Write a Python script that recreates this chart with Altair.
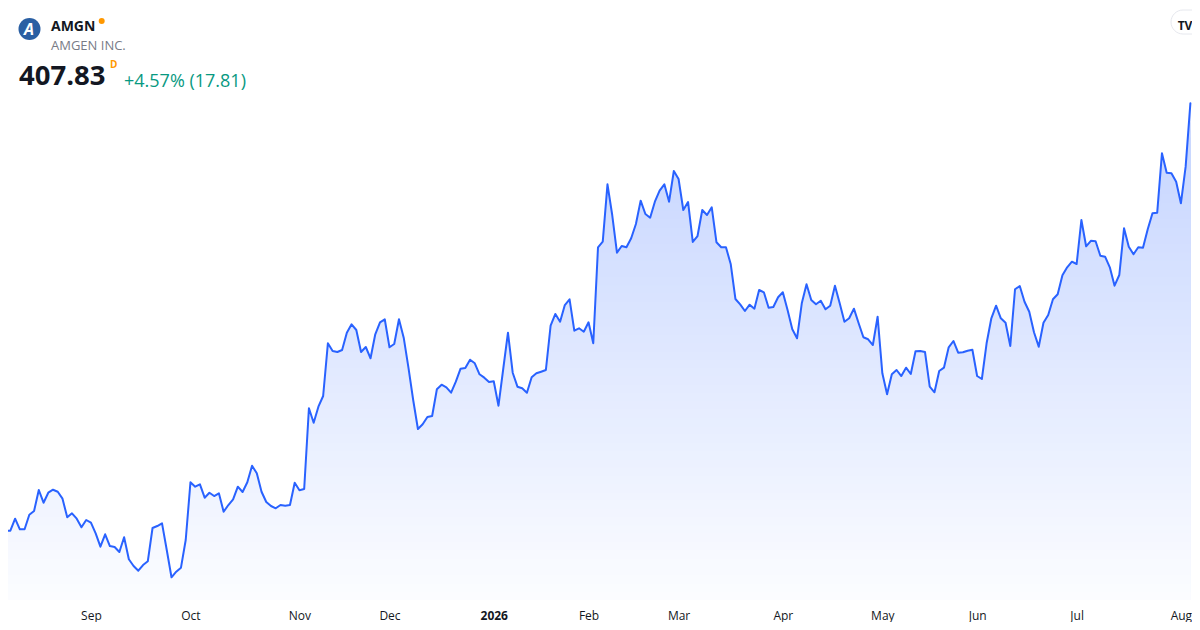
import altair as alt
import pandas as pd

# Daily closes (trading-day index), AMGN, Aug 2025 - Aug 2026
prices = [
    302.63, 287.73, 287.73, 291.11, 288.13, 288.13, 292.23, 293.27, 299.17, 295.60,
    298.41, 299.25, 298.69, 296.73, 291.50, 292.62, 291.11, 288.69, 290.74, 289.98,
    287.00, 283.24, 286.72, 283.43, 283.15, 281.75, 285.88, 279.70, 277.81, 276.49,
    278.09, 279.13, 288.49, 289.05, 289.81, 282.31, 274.64, 276.21, 277.34, 285.12,
    301.33, 300.10, 300.77, 297.01, 298.41, 297.48, 298.24, 293.07, 294.95, 296.56,
    300.10, 298.61, 301.33, 306.00, 303.86, 298.69, 295.80, 294.67, 294.03, 294.95,
    294.76, 294.95, 301.22, 299.09, 299.45, 322.13, 318.08, 322.58, 325.58, 340.39,
    338.23, 337.95, 338.51, 343.37, 345.73, 344.13, 337.95, 339.35, 336.18, 342.92,
    346.29, 347.14, 339.27, 340.20, 347.14, 341.97, 333.54, 324.46, 316.31, 317.63,
    319.68, 319.96, 327.47, 328.76, 328.03, 326.51, 329.60, 333.26, 333.45, 335.78,
    334.77, 331.68, 330.73, 329.52, 329.71, 322.86, 333.17, 343.37, 332.13, 328.20,
    327.75, 326.51, 330.84, 331.96, 332.41, 332.89, 345.34, 348.63, 346.46, 351.15,
    352.76, 343.93, 344.61, 343.65, 346.29, 340.39, 367.37, 368.94, 385.07, 376.44,
    365.85, 367.73, 367.37, 369.90, 373.92, 380.46, 376.73, 375.69, 380.18, 383.27,
    385.07, 380.18, 388.81, 386.56, 377.85, 380.10, 368.86, 370.54, 377.85, 376.44,
    378.61, 368.77, 367.37, 367.37, 362.68, 352.84, 351.35, 349.47, 351.24, 350.12,
    355.37, 354.72, 350.40, 350.59, 353.32, 354.72, 349.75, 344.33, 341.80, 351.63,
    356.97, 352.56, 351.35, 352.36, 349.95, 350.96, 356.58, 351.63, 346.46, 347.42,
    350.12, 346.01, 342.08, 341.52, 339.91, 347.87, 331.96, 326.06, 331.68, 332.89,
    331.20, 333.54, 331.77, 338.14, 338.23, 337.95, 328.20, 326.62, 332.61, 333.54,
    339.27, 341.04, 337.75, 337.86, 338.31, 338.59, 331.20, 330.36, 340.39, 347.42,
    350.96, 347.42, 346.18, 339.63, 355.57, 356.49, 352.08, 349.27, 343.48, 339.44,
    346.18, 348.34, 352.76, 354.16, 359.50, 361.75, 363.32, 362.68, 375.04, 367.65,
    369.20, 369.05, 365.01, 364.73, 361.75, 356.58, 359.58, 372.71, 367.54, 365.40,
    367.37, 367.26, 372.43, 376.92, 377.09, 393.78, 388.33, 388.16, 385.80, 379.73,
    390.02, 407.83,
]

# Month ticks: trading-day index of first session of each month
tick_index = [19, 40, 63, 82, 104, 124, 143, 165, 186, 206, 227, 249]
tick_labels = ["Sep", "Oct", "Nov", "Dec", "2026", "Feb", "Mar", "Apr", "May", "Jun", "Jul", "Aug"]

symbol = ["AMGN"]
company = ["AMGEN INC."]
last_price = ["407.83"]
change_text = ["+4.57% (17.81)"]
logo_letter = ["A"]
interval = ["D"]
brand = ["TV"]

FONT = "Open Sans"
W = 1184
H = 592
Y_MIN, Y_MAX = 268.26, 434.61
PX_PER_BAR = 4.739
X0 = 1.5

df = pd.DataFrame({"i": list(range(len(prices))), "price": prices})

label_expr = ""
for k, v in zip(tick_index, tick_labels):
    label_expr += f"datum.value == {k} ? '{v}' : "
label_expr += "''"

x_scale = alt.Scale(domain=[X0, X0 + W / PX_PER_BAR], nice=False, zero=False)
y_scale = alt.Scale(domain=[Y_MIN, Y_MAX], nice=False, zero=False)

x_axis = alt.Axis(
    values=tick_index,
    labelExpr=label_expr,
    grid=False,
    domain=False,
    ticks=False,
    tickSize=0,
    labelPadding=10,
    labelFontSize=12,
    labelFont=FONT,
    labelColor="#131722",
    labelFlush=False,
    labelOverlap=False,
    labelFontWeight={"condition": {"test": "datum.value == 104", "value": "bold"}, "value": "normal"},
    title=None,
)

base = alt.Chart(df)

# Vertical fade under the line, built from stacked bands (top = strongest tint)
top_price = max(prices)
n_bands = 60
top_alpha, bottom_alpha = 0.28, 0.015
band_layers = []
for k in range(n_bands, 0, -1):
    hi = Y_MIN + (top_price - Y_MIN) * k / n_bands
    f = 1 - (k - 0.5) / n_bands  # 0 at top, 1 at bottom
    a = top_alpha * (1 - f) + bottom_alpha * f
    r = round(255 - a * (255 - 41))
    g = round(255 - a * (255 - 98))
    col = f"#{r:02x}{g:02x}ff"
    layer = base.transform_calculate(
        t=f"min(datum.price, {hi:.3f})"
    ).mark_area(clip=True, opacity=1, color=col).encode(
        x=alt.X("i:Q", scale=x_scale, axis=x_axis),
        y=alt.Y("t:Q", scale=y_scale, axis=None),
    )
    band_layers.append(layer)

line = base.mark_line(
    clip=True, color="#2962ff", strokeWidth=2, strokeJoin="round", strokeCap="round"
).encode(
    x=alt.X("i:Q", scale=x_scale, axis=x_axis),
    y=alt.Y("price:Q", scale=y_scale, axis=None),
)


def txt(values, x, y, **kw):
    return alt.Chart(pd.DataFrame({"t": values})).mark_text(font=FONT, **kw).encode(
        x=alt.value(x), y=alt.value(y), text="t:N"
    )


logo = alt.Chart(pd.DataFrame({"t": logo_letter})).mark_point(
    shape="circle", filled=True, size=484, color="#2a5fa3", opacity=1
).encode(x=alt.value(21.5), y=alt.value(21))

logo_a = txt(logo_letter, 21, 21.5, fontSize=16, fontWeight="bold", fontStyle="italic",
             color="white", align="center", baseline="middle")
sym = txt(symbol, 43, 18.5, fontSize=14, fontWeight="bold", color="#131722", align="left")
dot = alt.Chart(pd.DataFrame({"t": symbol})).mark_point(
    shape="circle", filled=True, size=36, color="#ff9800", opacity=1
).encode(x=alt.value(93.7), y=alt.value(13))
comp = txt(company, 43, 37.7, fontSize=13, color="#787b86", align="left")
price_t = txt(last_price, 11, 69, fontSize=27.5, fontWeight="bold", color="#131722", align="left")
intv = txt(interval, 102, 57, fontSize=10, fontWeight="bold", color="#ff9800", align="left")
chg = txt(change_text, 116, 73.5, fontSize=18, color="#089981", align="left")

pill = alt.Chart(pd.DataFrame({"t": brand})).mark_rect(
    fill="white", stroke="#e6e8ee", strokeWidth=1, cornerRadius=12
).encode(x=alt.value(1163), x2=alt.value(1200), y=alt.value(2), y2=alt.value(26))
brand_t = txt(brand, 1177, 18, fontSize=12, fontWeight="bold", color="#131722", align="center")

chart = alt.layer(
    *band_layers, line, logo, logo_a, sym, dot, comp, price_t, intv, chg, pill, brand_t
).properties(
    width=W,
    height=H,
    padding={"left": 0, "top": 0, "right": 0, "bottom": 22},
    autosize=alt.AutoSizeParams(type="none"),
    background="white",
).configure_view(strokeWidth=0)

chart.save("out.html", embed_options={"renderer": "svg", "actions": False})
